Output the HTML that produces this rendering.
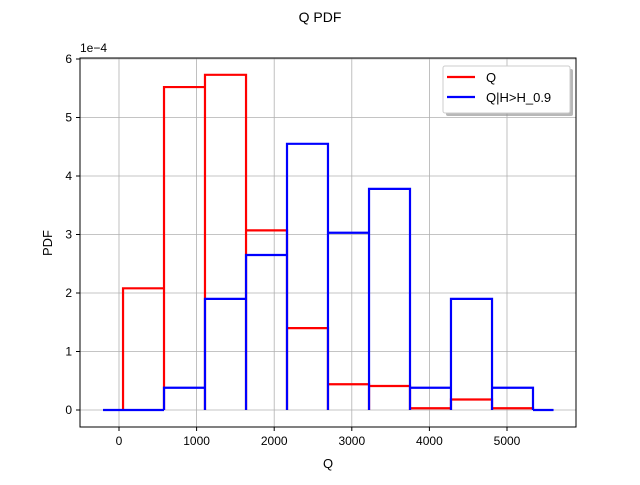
<!DOCTYPE html>
<html><head><meta charset="utf-8"><style>
body{margin:0;background:#fff}
text{font-family:"Liberation Sans","DejaVu Sans",sans-serif;fill:#000}
</style></head><body>
<svg width="640" height="480" xmlns="http://www.w3.org/2000/svg">
<rect width="640" height="480" fill="#fff"/>
<text x="320" y="22" font-size="14" text-anchor="middle">Q PDF</text>
<g id="grid"></g>
<g id="series"></g>
<rect x="80" y="58" width="496" height="369" fill="none" stroke="#000" stroke-width="1"/>
<g id="ticks"></g>
<text x="80" y="52" font-size="12">1e−4</text>
<text x="328" y="468" font-size="13" text-anchor="middle">Q</text>
<text x="52" y="243" font-size="13" text-anchor="middle" transform="rotate(-90 52 243)">PDF</text>
<g>
<rect x="446" y="69" width="127" height="47" rx="2" fill="#888" opacity="0.6"/>
<rect x="443" y="66" width="127" height="47" rx="2" fill="#fff" stroke="#ccc"/>
<line x1="447" y1="77" x2="475" y2="77" stroke="red" stroke-width="2.2"/>
<text x="486" y="82" font-size="13">Q</text>
<line x1="447" y1="97" x2="475" y2="97" stroke="blue" stroke-width="2.2"/>
<text x="486" y="102" font-size="13">Q|H&gt;H_0.9</text>
</g>
</svg>
<script>
const binEdges=[52,580,1108,1637,2165,2693,3222,3750,4278,4807,5335];
const redValues=[2.08,5.52,5.73,3.07,1.40,0.44,0.41,0.03,0.18,0.03];
const blueValues=[0.38,1.90,2.65,4.55,3.03,3.78,0.38,1.90,0.38];
const blueEdges=[580,1108,1637,2165,2693,3222,3750,4278,4807,5335];
const blueRange=[-206,5600];
const xTicks=[0,1000,2000,3000,4000,5000];
const yTicks=[0,1,2,3,4,5,6];
const NS="http://www.w3.org/2000/svg";
const X=v=>119+v*0.0776;
const Y=v=>410-v*58.5;
function mk(tag,attrs,parent){const e=document.createElementNS(NS,tag);for(const k in attrs)e.setAttribute(k,attrs[k]);parent.appendChild(e);return e;}
const grid=document.getElementById('grid'),ticks=document.getElementById('ticks'),series=document.getElementById('series');
xTicks.forEach(t=>{
 const l=mk('line',{x1:X(t),x2:X(t),y1:58,y2:427,stroke:'#b0b0b0','stroke-width':0.8},grid);
 
 
 mk('line',{x1:X(t),x2:X(t),y1:427,y2:431,stroke:'#000'},ticks);
 const tx=mk('text',{x:X(t),y:445,'font-size':12,'text-anchor':'middle'},ticks);
 tx.textContent=t;
 
 
});
yTicks.forEach(t=>{
 const l=mk('line',{x1:80,x2:576,y1:Y(t),y2:Y(t),stroke:'#b0b0b0','stroke-width':0.8},grid);
 
 
 mk('line',{x1:76,x2:80,y1:Y(t),y2:Y(t),stroke:'#000'},ticks);
 const tx=mk('text',{x:72,y:Y(t)+4,'font-size':12,'text-anchor':'end'},ticks);
 tx.textContent=t;
 
 
});
function hist(edges,vals,color,name,range){
 let d='';
 if(range)d+=`M${X(range[0])},${Y(0)} L${X(edges[0])},${Y(0)} `;
 vals.forEach((v,i)=>{d+=`M${X(edges[i])},${Y(0)} L${X(edges[i])},${Y(v)} L${X(edges[i+1])},${Y(v)} L${X(edges[i+1])},${Y(0)} `;});
 if(range)d+=`M${X(edges[edges.length-1])},${Y(0)} L${X(range[1])},${Y(0)}`;
 const p=mk('path',{d:d,fill:'none',stroke:color,'stroke-width':2.2},series);
 
 
}
hist(binEdges,redValues,'red','q-histogram',null);
hist(blueEdges,blueValues,'blue','q-conditional-histogram',blueRange);
</script>
</body></html>
